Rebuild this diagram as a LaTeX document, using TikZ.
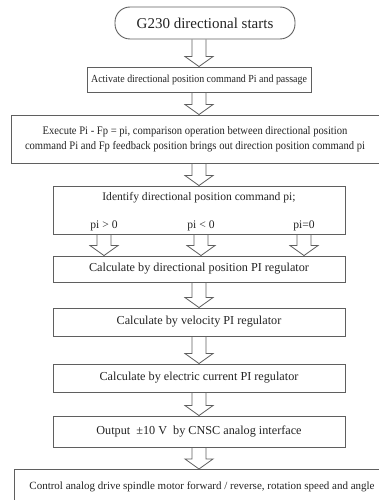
\documentclass[tikz,border=0pt]{standalone}
\usepackage{fontspec}
\setmainfont{Liberation Serif}
\newfontfamily\narrowserif[FakeStretch=0.92]{Liberation Serif}
\usetikzlibrary{calc}
\definecolor{edgegray}{RGB}{95,95,95}
\definecolor{inkgray}{RGB}{35,35,35}

\begin{document}
\begin{tikzpicture}[x=1pt, y=-1pt,
    box/.style={rectangle, draw=edgegray, line width=0.9pt, text=inkgray, font=\fontsize{12.2}{15}\selectfont, inner sep=0pt, align=center},
    term/.style={box, rounded corners=15pt, font=\fontsize{15}{17}\selectfont},
    txt/.style={text=inkgray, font=\fontsize{11.6}{13}\selectfont, inner sep=0pt},
    hollow/.style={draw=edgegray, line width=0.8pt, to path={let \p1=(\tikztostart), \p2=(\tikztotarget) in
        (\x1-7pt,\y1) -- (\x1-7pt,\y2+10pt) -- (\x1-14pt,\y2+10pt) -- (\x1,\y2)
        -- (\x1+14pt,\y2+10pt) -- (\x1+7pt,\y2+10pt) -- (\x1+7pt,\y1)}}]

\useasboundingbox (0,0) rectangle (379,500);

\node [term, minimum width=180, minimum height=32] (start) at (205,23) {G230 directional starts};
\node [box, minimum width=224, minimum height=25, font=\narrowserif\fontsize{10.8}{13}\selectfont] (activate) at (199,79.5) {Activate directional position command Pi and passage};
\node [box, minimum width=368, minimum height=48, font=\narrowserif\fontsize{11.5}{15}\selectfont] (execute) at (195,139) {Execute Pi - Fp = pi, comparison operation between directional position\\command Pi and Fp feedback position brings out direction position command pi};
\node [box, minimum width=292, minimum height=48] (identify) at (199,210) {};
\node [txt] (idtext) at (199,198) {Identify directional position command pi;};
\node [txt] (pgt) at (104,226) {pi > 0};
\node [txt] (plt) at (201,226) {pi < 0};
\node [txt] (peq) at (304,226) {pi=0};
\node [box, minimum width=292, minimum height=26] (calcpos) at (199,269) {Calculate by directional position PI regulator};
\node [box, minimum width=292, minimum height=28] (calcvel) at (199,322) {Calculate by velocity PI regulator};
\node [box, minimum width=292, minimum height=28] (calccur) at (199,378) {Calculate by electric current PI regulator};
\node [box, minimum width=292, minimum height=31] (output) at (199,431.5) {Output \ ±10 V \ by CNSC analog interface};
\node [box, minimum width=375, minimum height=34, anchor=north, font=\fontsize{11}{13}\selectfont] (control) at (202,469) {Control analog drive spindle motor forward / reverse, rotation speed and angle};

\draw [hollow] (start.south -| activate) to (activate.north);
\draw [hollow] (activate.south) to (execute.north -| activate);
\draw [hollow] (execute.south -| identify) to (identify.north);
\draw [hollow] (identify.south -| pgt) to (calcpos.north -| pgt);
\draw [hollow] (identify.south -| plt) to (calcpos.north -| plt);
\draw [hollow] (identify.south -| peq) to (calcpos.north -| peq);
\draw [hollow] (calcpos.south) to (calcvel.north);
\draw [hollow] (calcvel.south) to (calccur.north);
\draw [hollow] (calccur.south) to (output.north);
\draw [hollow] (output.south) to (control.north -| output);

\end{tikzpicture}
\end{document}
